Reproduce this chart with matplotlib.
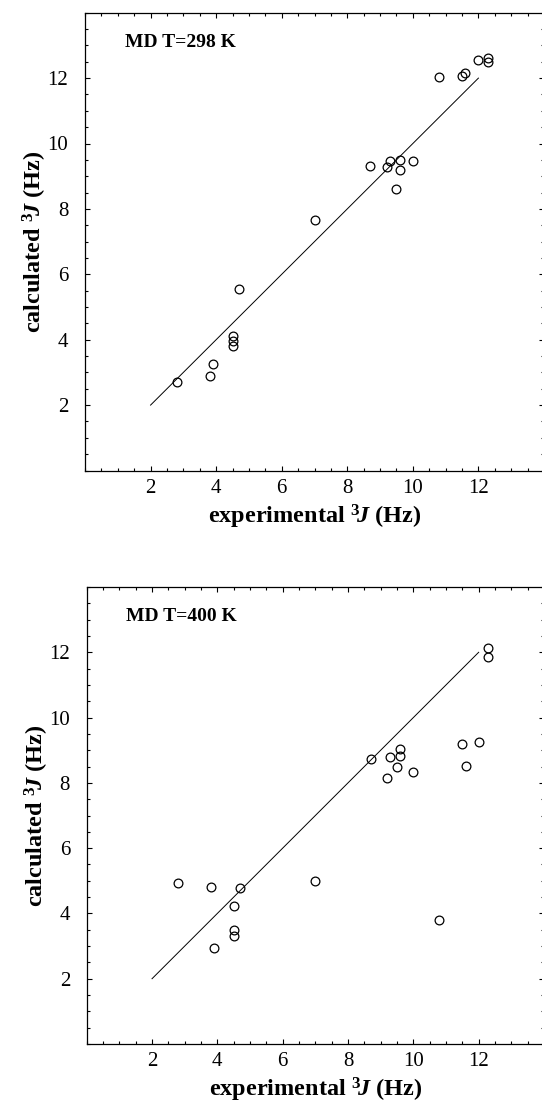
import matplotlib
matplotlib.use("Agg")
import matplotlib.pyplot as plt
from matplotlib.ticker import FixedLocator, MultipleLocator

plt.rcParams['font.family'] = ['Liberation Serif', 'DejaVu Serif']
plt.rcParams['mathtext.fontset'] = 'custom'
plt.rcParams['mathtext.rm'] = 'Liberation Serif:bold'
plt.rcParams['mathtext.it'] = 'Liberation Serif:italic:bold'
plt.rcParams['mathtext.bf'] = 'Liberation Serif:bold'

# experimental 3J couplings (same set for both panels)
exp_j = [2.8, 3.8, 3.9, 4.5, 4.5, 4.5, 4.7, 7.0, 8.7, 9.2, 9.3,
         9.6, 9.6, 9.5, 10.0, 10.8, 11.5, 11.6, 12.0, 12.3, 12.3]

# calculated from MD at 298 K
calc_298 = [2.71, 2.88, 3.26, 4.10, 3.95, 3.80, 5.55, 7.65, 9.30, 9.27, 9.45,
            9.50, 9.20, 8.60, 9.47, 12.03, 12.07, 12.17, 12.55, 12.60, 12.50]

# calculated from MD at 400 K
calc_400 = [4.93, 4.80, 2.94, 4.24, 3.50, 3.32, 4.77, 5.00, 8.72, 8.16, 8.80,
            9.03, 8.82, 8.49, 8.32, 3.79, 9.20, 8.53, 9.24, 12.14, 11.86]

ideal = [2, 12]
tick_vals = [2, 4, 6, 8, 10, 12]

panels = [("MD T=298 K", calc_298, [85 / 542, 1 - 470.5 / 1105, 459 / 542, 457.8 / 1105]),
          ("MD T=400 K", calc_400, [86.7 / 542, 1 - 1044 / 1105, 457.3 / 542, 457 / 1105])]

fig = plt.figure(figsize=(5.42, 11.05), dpi=100)

for title, calc, rect in panels:
    ax = fig.add_axes(rect)
    ax.plot(ideal, ideal, color='black', lw=0.7)
    ax.plot(exp_j, calc, 'o', mfc='none', mec='black', ms=6.3, mew=0.9)
    ax.set_xlim(0, 14)
    ax.set_ylim(0, 14)
    ax.xaxis.set_major_locator(FixedLocator(tick_vals))
    ax.yaxis.set_major_locator(FixedLocator(tick_vals))
    ax.xaxis.set_minor_locator(MultipleLocator(0.5))
    ax.yaxis.set_minor_locator(MultipleLocator(0.5))
    ax.tick_params(which='both', direction='in', top=True, right=True, width=0.8)
    ax.tick_params(which='major', length=3.5, labelsize=15)
    ax.tick_params(axis='x', which='major', pad=6)
    ax.tick_params(axis='y', which='major', pad=12)
    ax.tick_params(which='minor', length=2)
    for sp in ax.spines.values():
        sp.set_linewidth(0.9)
    ax.text(0.087, 0.935, title, transform=ax.transAxes, fontsize=14,
            fontweight='bold', ha='left', va='center')
    ax.set_xlabel(r'experimental $^{\mathit{3}}\!\mathit{J}$ (Hz)', fontsize=17.5,
                  fontweight='bold', labelpad=3.5)
    ax.set_ylabel(r'calculated $^{\mathit{3}}\!\mathit{J}$ (Hz)', fontsize=17.5,
                  fontweight='bold', labelpad=-1)

fig.savefig('out.png', dpi=100)
